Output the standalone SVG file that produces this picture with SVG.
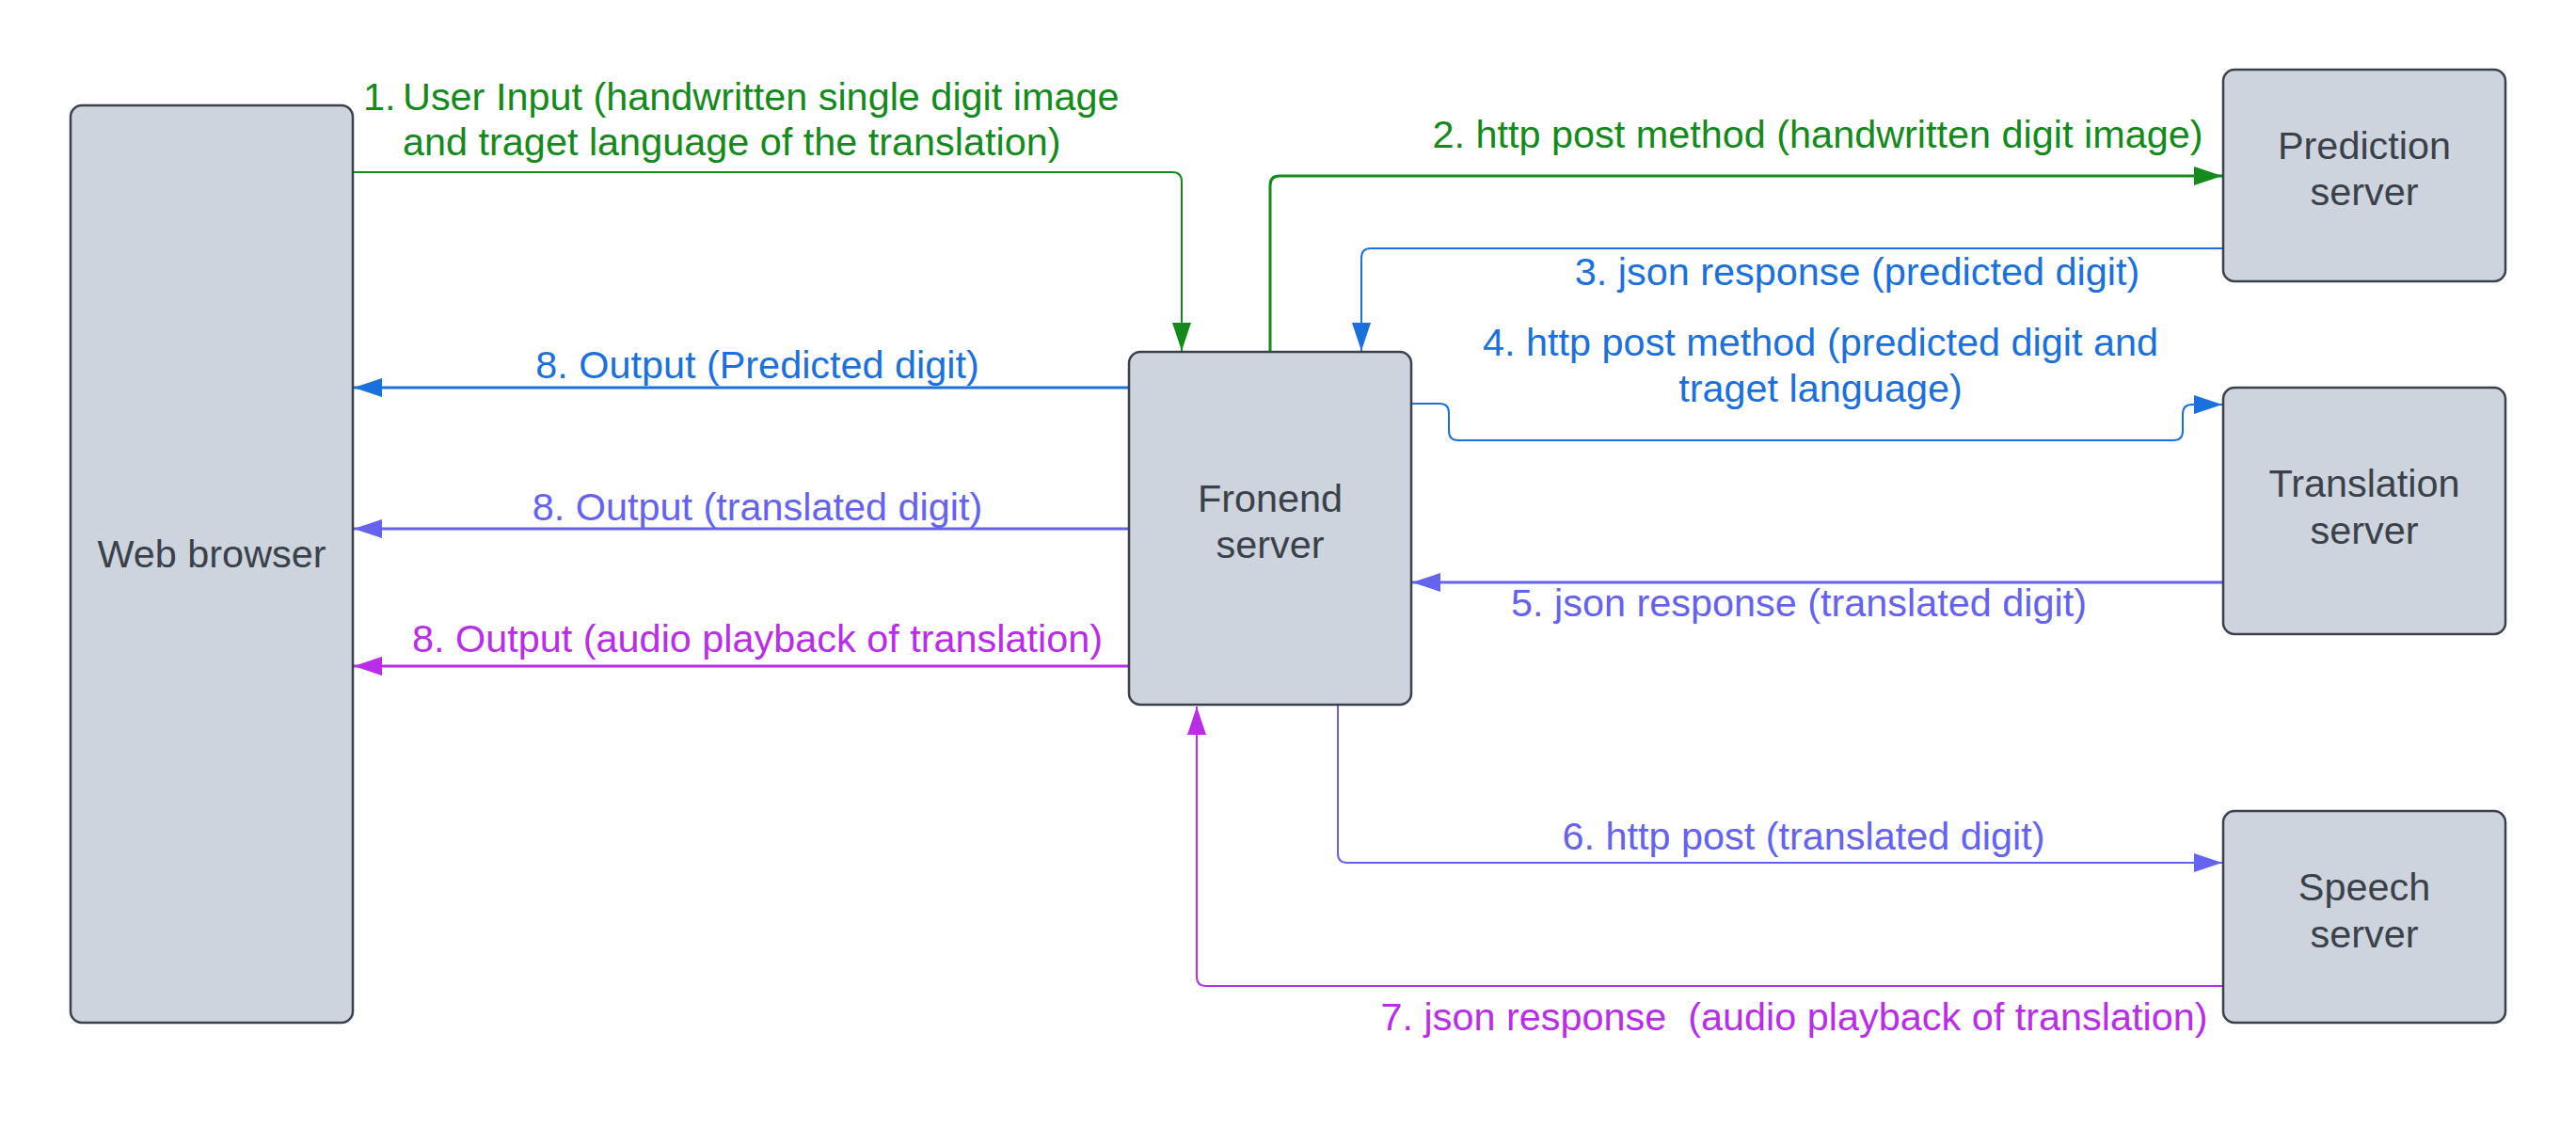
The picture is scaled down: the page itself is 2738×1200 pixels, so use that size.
<svg xmlns="http://www.w3.org/2000/svg" width="2738" height="1200" viewBox="0 0 2738 1200">
<style>
.node rect{fill:#cdd4dd;stroke:#3a414a;stroke-width:2.5}
.node text{font-family:"Liberation Sans",Arial,sans-serif;font-size:41.4px;fill:#3a414a;text-anchor:middle}
.lbl{font-family:"Liberation Sans",Arial,sans-serif;font-size:41.4px;white-space:pre}
.mid{text-anchor:middle}
.c{fill:none}
.g{stroke:#138a1b}.b{stroke:#1a70dc}.p{stroke:#6562ee}.m{stroke:#b92de8}
.tg{fill:#138a1b}.tb{fill:#1a70dc}.tp{fill:#6562ee}.tm{fill:#b92de8}
</style>
<defs>
<marker id="ag" markerUnits="userSpaceOnUse" markerWidth="30" markerHeight="20" viewBox="0 0 30 20" refX="30" refY="10" orient="auto"><path d="M0,0 L30,10 L0,20 z" fill="#138a1b"/></marker>
<marker id="ab" markerUnits="userSpaceOnUse" markerWidth="30" markerHeight="20" viewBox="0 0 30 20" refX="30" refY="10" orient="auto"><path d="M0,0 L30,10 L0,20 z" fill="#1a70dc"/></marker>
<marker id="ap" markerUnits="userSpaceOnUse" markerWidth="30" markerHeight="20" viewBox="0 0 30 20" refX="30" refY="10" orient="auto"><path d="M0,0 L30,10 L0,20 z" fill="#6562ee"/></marker>
<marker id="am" markerUnits="userSpaceOnUse" markerWidth="30" markerHeight="20" viewBox="0 0 30 20" refX="30" refY="10" orient="auto"><path d="M0,0 L30,10 L0,20 z" fill="#b92de8"/></marker>
</defs>
<rect width="2738" height="1200" fill="#ffffff"/>
<g id="connectors">
<path class="c g" stroke-width="2" d="M375,183 H1246 Q1256,183 1256,193 V373" marker-end="url(#ag)"/>
<path class="c g" stroke-width="3" d="M1350,374 V197 Q1350,187 1360,187 H2362" marker-end="url(#ag)"/>
<path class="c b" stroke-width="2" d="M2363,264 H1457 Q1447,264 1447,274 V373" marker-end="url(#ab)"/>
<path class="c b" stroke-width="2" d="M1500,429 H1530 Q1540,429 1540,439 V458 Q1540,468 1550,468 H2310 Q2320,468 2320,458 V440 Q2320,430 2330,430 H2362" marker-end="url(#ab)"/>
<path class="c p" stroke-width="3" d="M2363,619 H1501" marker-end="url(#ap)"/>
<path class="c p" stroke-width="2" d="M1422,749 V907 Q1422,917 1432,917 H2362" marker-end="url(#ap)"/>
<path class="c m" stroke-width="2" d="M2363,1048 H1282 Q1272,1048 1272,1038 V751" marker-end="url(#am)"/>
<path class="c b" stroke-width="3" d="M1200,412 H376" marker-end="url(#ab)"/>
<path class="c p" stroke-width="3" d="M1200,562 H376" marker-end="url(#ap)"/>
<path class="c m" stroke-width="3" d="M1200,708 H376" marker-end="url(#am)"/>
<text class="lbl tg" x="386" y="117">1.</text>
<text class="lbl tg" x="428" y="117">User Input (handwritten single digit image</text>
<text class="lbl tg" x="428" y="165">and traget language of the translation)</text>
<text class="lbl tg mid" x="1932" y="157">2. http post method (handwritten digit image)</text>
<text class="lbl tb mid" x="1974" y="303">3. json response (predicted digit)</text>
<text class="lbl tb mid" x="1935" y="378">4. http post method (predicted digit and</text>
<text class="lbl tb mid" x="1935" y="427">traget language)</text>
<text class="lbl tp mid" x="1912" y="655">5. json response (translated digit)</text>
<text class="lbl tp mid" x="1917" y="903">6. http post (translated digit)</text>
<text class="lbl tm mid" x="1907" y="1095">7. json response  (audio playback of translation)</text>
<text class="lbl tb mid" x="805" y="402">8. Output (Predicted digit)</text>
<text class="lbl tp mid" x="805" y="553">8. Output (translated digit)</text>
<text class="lbl tm mid" x="805" y="693">8. Output (audio playback of translation)</text>
</g>
<g id="web-browser" class="node"><rect x="75" y="112" width="300" height="975" rx="12"/><text x="225" y="603">Web browser</text></g>
<g id="frontend-server" class="node"><rect x="1200" y="374" width="300" height="375" rx="12"/><text x="1350" y="544">Fronend</text><text x="1350" y="593">server</text></g>
<g id="prediction-server" class="node"><rect x="2363" y="74" width="300" height="225" rx="12"/><text x="2513" y="169">Prediction</text><text x="2513" y="218">server</text></g>
<g id="translation-server" class="node"><rect x="2363" y="412" width="300" height="262" rx="12"/><text x="2513" y="528">Translation</text><text x="2513" y="578">server</text></g>
<g id="speech-server" class="node"><rect x="2363" y="862" width="300" height="225" rx="12"/><text x="2513" y="957">Speech</text><text x="2513" y="1007">server</text></g>
</svg>
